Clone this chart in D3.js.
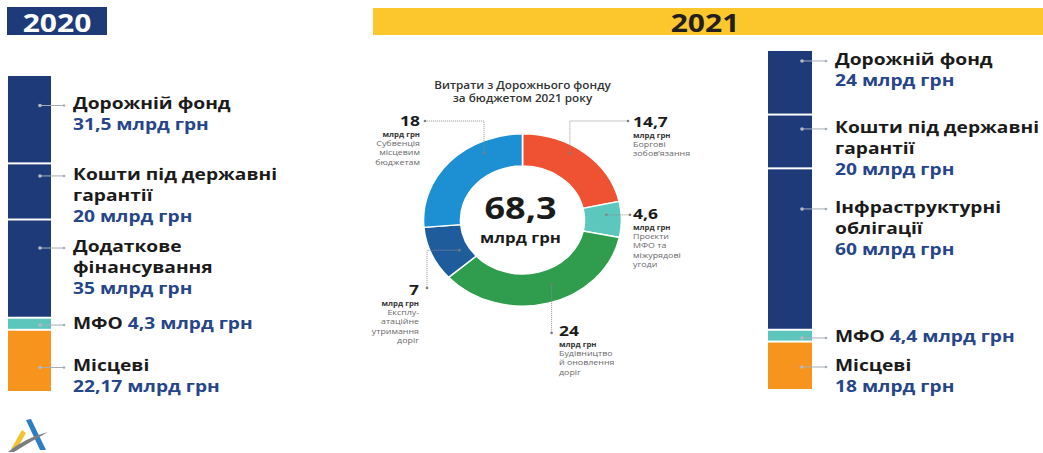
<!DOCTYPE html>
<html>
<head>
<meta charset="utf-8">
<script src="https://cdn.jsdelivr.net/npm/d3@7"></script>
<style>
  html, body { margin: 0; padding: 0; background: #fff; }
  svg { display: block; font-family: "Open Sans", "DejaVu Sans", sans-serif; }
</style>
</head>
<body>
<svg id="chart" width="1043" height="453"></svg>
<script>
// ---- Data (млрд грн) ----
const years = ["2020", "2021"];

const sources2020 = ["Дорожній фонд", "Кошти під державні гарантії", "Додаткове фінансування", "МФО", "Місцеві"];
const values2020 = [31.5, 20, 35, 4.3, 22.17];
const lines2020 = [["Дорожній фонд"], ["Кошти під державні", "гарантії"], ["Додаткове", "фінансування"], ["МФО"], ["Місцеві"]];

const sources2021 = ["Дорожній фонд", "Кошти під державні гарантії", "Інфраструктурні облігації", "МФО", "Місцеві"];
const values2021 = [24, 20, 60, 4.4, 18];
const lines2021 = [["Дорожній фонд"], ["Кошти під державні", "гарантії"], ["Інфраструктурні", "облігації"], ["МФО"], ["Місцеві"]];

const spendTitle = ["Витрати з Дорожнього фонду", "за бюджетом 2021 року"];
const spendCategories = ["Боргові зобов’язання", "Проєкти МФО та міжурядові угоди", "Будівництво й оновлення доріг", "Експлуатаційне утримання доріг", "Субвенція місцевим бюджетам"];
const spendValues = [14.7, 4.6, 24, 7, 18];
const spendLines = [["Боргові", "зобов’язання"], ["Проєкти", "МФО та", "міжурядові", "угоди"], ["Будівництво", "й оновлення", "доріг"], ["Експлу-", "атаційне", "утримання", "доріг"], ["Субвенція", "місцевим", "бюджетам"]];
const unit = "млрд грн";

// ---- Styling ----
const NAVY = "#1e3a78";
const VALUE_BLUE = "#27468a";
const stackColors = [NAVY, NAVY, NAVY, "#5cc6bd", "#f7941d"];
const donutColors = ["#ef5233", "#5cc7bd", "#2f9c4e", "#1f5c9c", "#1d8fd3"];
const SX = 1.2; // horizontal stretch of the lettering

const fmt = v => String(v).replace(".", ",");
const svg = d3.select("#chart");

function label(g, x, y, str, o) {
  return g.append("text")
    .attr("transform", `translate(${x},${y}) scale(${SX},1)`)
    .attr("text-anchor", o.anchor || "start")
    .attr("font-size", o.size)
    .attr("font-weight", o.weight || 700)
    .attr("fill", o.fill || "#1b1b1b")
    .text(str);
}

// ---- Year headers ----
const h = svg.append("g");
h.append("rect").attr("x", 7).attr("y", 7).attr("width", 100).attr("height", 28).attr("fill", NAVY);
label(h, 57, 32, years[0], { anchor: "middle", size: 25, fill: "#fff" });
h.append("rect").attr("x", 373).attr("y", 8).attr("width", 670).attr("height", 27).attr("fill", "#fcc72c");
label(h, 705, 32, years[1], { anchor: "middle", size: 25, fill: "#231f20" });

// ---- Stacked funding columns ----
function stackColumn(cfg) {
  const g = svg.append("g");
  const y = d3.scaleLinear().domain([0, d3.sum(cfg.values)]).range([cfg.top, cfg.bottom]);
  const x = d3.scaleBand().domain([cfg.year]).range([cfg.left, cfg.right]).padding(0);
  let cum = 0;
  const segs = cfg.values.map((v, i) => { const s = { i, v, y0: cum, y1: cum + v }; cum += v; return s; });

  g.selectAll("rect").data(segs).join("rect")
    .attr("x", x(cfg.year))
    .attr("width", x.bandwidth())
    .attr("y", d => y(d.y0) + 1)
    .attr("height", d => y(d.y1) - y(d.y0) - 2)
    .attr("fill", d => stackColors[d.i]);

  const dotX = x(cfg.year) + cfg.dotInset;
  const lineEnd = cfg.textX - 9;
  segs.forEach(d => {
    const base = (y(d.y0) + y(d.y1)) / 2 + cfg.offsets[d.i];
    const dy = base - 4;
    g.append("line").attr("x1", dotX).attr("x2", lineEnd).attr("y1", dy).attr("y2", dy)
      .attr("stroke", "#a7adb8").attr("stroke-width", 1);
    g.append("circle").attr("cx", dotX).attr("cy", dy).attr("r", 1.8).attr("fill", "#b5bac4");
    g.append("circle").attr("cx", lineEnd).attr("cy", dy).attr("r", 1.3).attr("fill", "#a7adb8");

    const lines = cfg.lines[d.i];
    const valueText = `${fmt(d.v)} ${unit}`;
    if (lines.length === 1 && cfg.inline[d.i]) {
      const t = label(g, cfg.textX, base, "", { size: 16 });
      t.append("tspan").text(lines[0] + " ");
      t.append("tspan").attr("fill", VALUE_BLUE).text(valueText);
    } else {
      lines.forEach((ln, k) => label(g, cfg.textX, base + k * 21, ln, { size: 16 }));
      label(g, cfg.textX, base + lines.length * 21, valueText, { size: 16, fill: VALUE_BLUE });
    }
  });
}

stackColumn({
  year: years[0], values: values2020, lines: lines2020,
  inline: [false, false, false, true, false],
  left: 8, right: 51, top: 75, bottom: 392,
  dotInset: 32, textX: 73,
  offsets: [-9.7, -11.5, -16.6, 5.3, 10.6]
});
stackColumn({
  year: years[1], values: values2021, lines: lines2021,
  inline: [false, false, false, true, false],
  left: 768, right: 812, top: 50, bottom: 390,
  dotInset: 34, textX: 835,
  offsets: [-17.3, -8.5, -36.1, 6.3, 5.2]
});

// ---- Donut: road fund spending 2021 ----
const cx = 522.5, cy = 220, ky = 0.87;
const pie = d3.pie().sort(null).value(d => d);
const arcs = pie(spendValues);
const arc = d3.arc().innerRadius(62).outerRadius(99);

const dg = svg.append("g").attr("transform", `translate(${cx},${cy}) scale(1,${ky})`);
dg.selectAll("path").data(arcs).join("path")
  .attr("d", arc)
  .attr("fill", (d, i) => donutColors[i])
  .attr("stroke", "#fff")
  .attr("stroke-width", 1.6);

const tg = svg.append("g");
spendTitle.forEach((t, k) => label(tg, cx, 88.5 + k * 13, t, { anchor: "middle", size: 9.8, weight: 600, fill: "#333" }));

const total = d3.sum(spendValues);
label(tg, cx - 2, 219, fmt(Math.round(total * 10) / 10), { anchor: "middle", size: 30, fill: "#1b1b1b" });
label(tg, cx - 2, 243, unit, { anchor: "middle", size: 14, fill: "#1b1b1b" });

// leader anchors inside each slice and callout placement
const anchorFrac = [0.41, 0.35, 0.45, 0.35, 0.72];
const anchorR = [90, 84, 80, 72, 86];
const callouts = [
  { anchor: "start", x: 633, y: 127, route: p => [p, [p[0], 121], [628, 121]] },
  { anchor: "start", x: 633, y: 219, route: p => [p, [630, p[1]]] },
  { anchor: "start", x: 559, y: 336, route: p => [p, [p[0], 333]] },
  { anchor: "end",   x: 419, y: 295, route: p => [p, [427, p[1]], [427, 288]] },
  { anchor: "end",   x: 420, y: 126, route: p => [p, [p[0], 121], [425, 121]] }
];

const lg = svg.append("g");
arcs.forEach((a, i) => {
  const th = a.startAngle + anchorFrac[i] * (a.endAngle - a.startAngle);
  const p = [cx + anchorR[i] * Math.sin(th), cy - anchorR[i] * ky * Math.cos(th)];
  const c = callouts[i];
  const pts = c.route(p);
  lg.append("path").attr("d", d3.line()(pts)).attr("fill", "none")
    .attr("stroke", "#8d8d8d").attr("stroke-width", 0.8).attr("stroke-dasharray", "1.2,0.8");
  lg.append("circle").attr("cx", p[0]).attr("cy", p[1]).attr("r", 1.4).attr("fill", "#7d7d7d").attr("opacity", 0.8);
  const e = pts[pts.length - 1];
  lg.append("circle").attr("cx", e[0]).attr("cy", e[1]).attr("r", 1.3).attr("fill", "#7d7d7d");

  label(lg, c.x, c.y, fmt(spendValues[i]), { anchor: c.anchor, size: 14.5, fill: "#1b1b1b" });
  label(lg, c.x, c.y + 10.5, unit, { anchor: c.anchor, size: 6.5, fill: "#333" });
  spendLines[i].forEach((ln, k) =>
    label(lg, c.x, c.y + 19.5 + k * 9.5, ln, { anchor: c.anchor, size: 7.4, weight: 400, fill: "#6a6a6a" }));
});

// ---- Logo mark ----
const logo = svg.append("g");
logo.append("path").attr("d", "M26,420 L31,419 L46,450 L40,450 Z").attr("fill", "#2b7dc4");
logo.append("path").attr("d", "M22,430 L26,433 L17,449 L11,449 Z").attr("fill", "#f4c430");
logo.append("path").attr("d", "M8,452 Q25,438 48,432 Q30,442 14,452 Z").attr("fill", "#7a7d82");
</script>
</body>
</html>
